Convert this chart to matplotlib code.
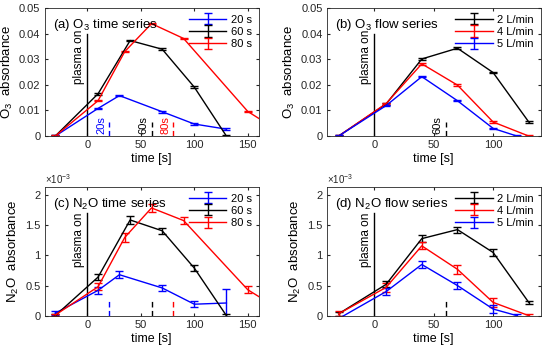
import matplotlib.pyplot as plt
import numpy as np
from matplotlib.ticker import FuncFormatter

plt.rcParams['font.family'] = ['Liberation Sans', 'DejaVu Sans']
plt.rcParams['mathtext.fontset'] = 'custom'
plt.rcParams['mathtext.rm'] = 'Liberation Sans'
plt.rcParams['mathtext.it'] = 'Liberation Sans:italic'

# ---- (a) O3 time series ----
t_a_20 = [-30, 10, 30, 70, 100, 130]
o3_20 = [0, 0.0108, 0.0158, 0.0095, 0.0047, 0.0027]
t_a_60 = [-30, 10, 40, 70, 100, 130]
o3_60 = [0, 0.0165, 0.0373, 0.0339, 0.0191, 0.0]
t_a_80 = [-30, 10, 35, 60, 90, 150, 180]
o3_80 = [0, 0.0138, 0.0330, 0.0439, 0.0381, 0.0096, 0.0017]

# ---- (b) O3 flow series ----
t_b_2 = [-30, 10, 40, 70, 100, 130]
o3_2 = [0, 0.0125, 0.0301, 0.0343, 0.0248, 0.0055]
t_b_4 = [-30, 10, 40, 70, 100, 130]
o3_4 = [0, 0.0127, 0.0282, 0.0199, 0.0055, 0.0]
t_b_5 = [-30, 10, 40, 70, 100, 120]
o3_5 = [0, 0.0119, 0.0232, 0.0138, 0.0030, 0.0]

# ---- (c) N2O time series (x1e-3) ----
n2o_20 = [0.04, 0.42, 0.68, 0.46, 0.19, 0.21]
n2o_20_err = [0.03, 0.06, 0.06, 0.05, 0.05, 0.23]
n2o_60 = [0.0, 0.64, 1.59, 1.41, 0.79, 0.0]
n2o_60_err = [0.02, 0.05, 0.06, 0.05, 0.05, 0.02]
n2o_80 = [0.01, 0.48, 1.30, 1.79, 1.58, 0.43, 0.10]
n2o_80_err = [0.02, 0.06, 0.07, 0.06, 0.06, 0.06, 0.06]

# ---- (d) N2O flow series (x1e-3) ----
n2o_2 = [0.03, 0.52, 1.28, 1.43, 1.05, 0.22]
n2o_2_err = [0.03, 0.05, 0.06, 0.05, 0.06, 0.02]
n2o_4 = [0.03, 0.47, 1.16, 0.77, 0.22, 0.0]
n2o_4_err = [0.04, 0.08, 0.06, 0.07, 0.07, 0.02]
n2o_5 = [-0.05, 0.40, 0.85, 0.50, 0.11, 0.0]
n2o_5_err = [0.02, 0.06, 0.06, 0.06, 0.06, 0.02]

o3_err = 0.0003

fig = plt.figure(figsize=(5.5, 3.48), dpi=100)
ax_a = fig.add_axes([0.081, 0.609, 0.389, 0.368])
ax_b = fig.add_axes([0.594, 0.609, 0.389, 0.368])
ax_c = fig.add_axes([0.081, 0.093, 0.389, 0.370])
ax_d = fig.add_axes([0.594, 0.093, 0.389, 0.370])

blue, red, black = '#0000ff', '#ff0000', '#000000'


def eb(ax, x, y, err, c, lab):
    ax.errorbar(x, y, yerr=err, color=c, lw=1, elinewidth=1, capsize=3,
                capthick=1, label=lab)


def style(ax, title, ylab, xlim):
    ax.set_xlim(*xlim)
    ax.set_xlabel('time [s]', fontsize=9, labelpad=2)
    ax.set_ylabel(ylab, fontsize=9.5, labelpad=3)
    ax.text(0.04, 0.93, title, transform=ax.transAxes, fontsize=9.5,
            va='top', ha='left')
    ax.tick_params(direction='in', length=2.5, labelsize=8, top=True,
                   right=True, colors='#262626', pad=3)
    for s in ax.spines.values():
        s.set_color('#262626')
        s.set_linewidth(0.6)
    ax.legend(loc='upper right', frameon=False, fontsize=8, handlelength=3.4,
              borderaxespad=0.2, labelspacing=0.2, handletextpad=0.4)


def marker(ax, x, top, c, label=None, ytext=None):
    ax.plot([x, x], [0, top], ls=(0, (4, 2.5)), color=c, lw=1)
    if label:
        ax.text(x - 2.5, ytext, label, rotation=90, color=c, fontsize=8,
                ha='right', va='bottom')


def plasma(ax, top, ytext):
    ax.plot([0, 0], [0, top], color='k', lw=1)
    ax.text(-2, ytext, 'plasma on', rotation=90, fontsize=8.5,
            ha='right', va='top')


# (a)
eb(ax_a, t_a_20, o3_20, o3_err, blue, '20 s')
eb(ax_a, t_a_60, o3_60, o3_err, black, '60 s')
eb(ax_a, t_a_80, o3_80, o3_err, red, '80 s')
ax_a.set_ylim(0, 0.05)
ax_a.set_yticks(np.arange(0, 0.051, 0.01))
ax_a.yaxis.set_major_formatter(FuncFormatter(lambda v, p: '0' if v == 0 else f'{v:.2f}'))
ax_a.set_xticks([0, 50, 100, 150])
plasma(ax_a, 0.040, 0.0415)
marker(ax_a, 20, 0.0055, blue, '20s', 0.0009)
marker(ax_a, 60, 0.0055, black, '60s', 0.0009)
marker(ax_a, 80, 0.0055, red, '80s', 0.0009)
style(ax_a, '(a) O$_3$ time series', 'O$_3$  absorbance', (-40, 160))

# (b)
eb(ax_b, t_b_2, o3_2, o3_err, black, '2 L/min')
eb(ax_b, t_b_4, o3_4, o3_err, red, '4 L/min')
eb(ax_b, t_b_5, o3_5, o3_err, blue, '5 L/min')
ax_b.set_ylim(0, 0.05)
ax_b.set_yticks(np.arange(0, 0.051, 0.01))
ax_b.yaxis.set_major_formatter(FuncFormatter(lambda v, p: '0' if v == 0 else f'{v:.2f}'))
ax_b.set_xticks([0, 50, 100])
plasma(ax_b, 0.040, 0.0415)
marker(ax_b, 60, 0.0055, black, '60s', 0.0009)
style(ax_b, '(b) O$_3$ flow series', 'O$_3$  absorbance', (-40, 140))

# (c)
sc = 1e-3
eb(ax_c, t_a_20, np.array(n2o_20) * sc, np.array(n2o_20_err) * sc, blue, '20 s')
eb(ax_c, t_a_60, np.array(n2o_60) * sc, np.array(n2o_60_err) * sc, black, '60 s')
eb(ax_c, t_a_80, np.array(n2o_80) * sc, np.array(n2o_80_err) * sc, red, '80 s')
ax_c.set_ylim(0, 2.14e-3)
ax_c.set_xticks([0, 50, 100, 150])
plasma(ax_c, 1.7e-3, 1.72e-3)
marker(ax_c, 20, 0.28e-3, blue)
marker(ax_c, 60, 0.28e-3, black)
marker(ax_c, 80, 0.28e-3, red)
style(ax_c, '(c) N$_2$O time series', 'N$_2$O  absorbance', (-40, 160))

# (d)
eb(ax_d, t_b_2, np.array(n2o_2) * sc, np.array(n2o_2_err) * sc, black, '2 L/min')
eb(ax_d, t_b_4, np.array(n2o_4) * sc, np.array(n2o_4_err) * sc, red, '4 L/min')
eb(ax_d, t_b_5, np.array(n2o_5) * sc, np.array(n2o_5_err) * sc, blue, '5 L/min')
ax_d.set_ylim(0, 2.14e-3)
ax_d.set_xticks([0, 50, 100])
plasma(ax_d, 1.7e-3, 1.72e-3)
marker(ax_d, 60, 0.28e-3, black)
style(ax_d, '(d) N$_2$O flow series', 'N$_2$O  absorbance', (-40, 140))

for ax in (ax_c, ax_d):
    ax.set_yticks(np.arange(0, 2.01e-3, 0.5e-3))
    ax.yaxis.set_major_formatter(FuncFormatter(lambda v, p: f'{v * 1e3:g}'))
    ax.text(0.0, 1.01, r'$\times$10$^{-3}$', transform=ax.transAxes,
            fontsize=7, color='#262626', ha='left', va='bottom')

fig.savefig('out.png', dpi=100)
